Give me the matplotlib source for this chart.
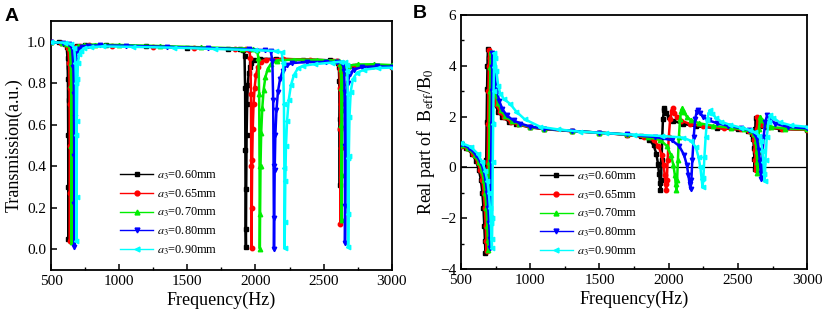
import matplotlib
matplotlib.use("Agg")
import matplotlib.pyplot as plt
from matplotlib.lines import Line2D
from matplotlib.ticker import MultipleLocator

plt.rcParams['font.family'] = ['Liberation Serif', 'DejaVu Serif']
plt.rcParams['mathtext.fontset'] = 'stix'

# ==========================
# Data
# ==========================

labels = [r'$a_3$=0.60mm', r'$a_3$=0.65mm', r'$a_3$=0.70mm', r'$a_3$=0.80mm', r'$a_3$=0.90mm']
colors = ['#000000', '#ff0000', '#00ee00', '#0000ff', '#00ffff']
markers = ['s', 'o', '^', 'v', '<']

# Panel A: transmission
fA_060 = [500, 560, 600, 615, 621, 624, 626, 627, 628, 630, 633, 637, 643, 652, 665, 690, 750, 900, 1200, 1500,
          1800, 1890, 1912, 1920, 1924, 1926, 1928, 1930, 1932, 1935, 1939, 1944, 1950, 1958, 1970, 1990, 2030, 2150, 2350, 2550,
          2595, 2607, 2612, 2615, 2617, 2619, 2621, 2624, 2628, 2635, 2648, 2670, 2720, 2850, 3000]
tA_060 = [0.998, 0.997, 0.992, 0.975, 0.92, 0.82, 0.55, 0.05, 0.3, 0.72, 0.88, 0.935, 0.958, 0.97, 0.977, 0.982, 0.985, 0.983, 0.978, 0.972,
          0.966, 0.964, 0.96, 0.93, 0.78, 0.48, 0.1, 0.01, 0.29, 0.55, 0.7, 0.79, 0.85, 0.88, 0.9, 0.912, 0.918, 0.918, 0.915, 0.911,
          0.909, 0.9, 0.88, 0.81, 0.58, 0.31, 0.63, 0.76, 0.83, 0.86, 0.875, 0.883, 0.886, 0.885, 0.881]

fA_065 = [500, 570, 610, 627, 633, 636, 638, 639, 640, 642, 645, 649, 655, 665, 680, 710, 780, 950, 1250, 1550,
          1850, 1930, 1955, 1963, 1967, 1969, 1971, 1973, 1976, 1980, 1986, 1994, 2004, 2018, 2040, 2080, 2200, 2400, 2570, 2600,
          2612, 2617, 2620, 2622, 2623, 2625, 2628, 2632, 2640, 2655, 2680, 2740, 2860, 3000]
tA_065 = [0.998, 0.996, 0.99, 0.97, 0.9, 0.78, 0.5, 0.04, 0.27, 0.7, 0.87, 0.93, 0.955, 0.968, 0.976, 0.981, 0.984, 0.982, 0.977, 0.971,
          0.966, 0.964, 0.96, 0.92, 0.75, 0.4, 0.005, 0.2, 0.43, 0.58, 0.7, 0.78, 0.84, 0.88, 0.905, 0.915, 0.918, 0.914, 0.91, 0.906,
          0.895, 0.87, 0.78, 0.58, 0.12, 0.49, 0.7, 0.8, 0.85, 0.87, 0.88, 0.884, 0.884, 0.88]

fA_070 = [500, 580, 620, 638, 645, 648, 650, 651, 652, 654, 657, 661, 668, 680, 700, 740, 820, 1000, 1300, 1600,
          1900, 1980, 2012, 2022, 2027, 2030, 2032, 2034, 2037, 2042, 2050, 2060, 2073, 2090, 2115, 2160, 2280, 2450, 2580, 2610,
          2621, 2626, 2629, 2631, 2632, 2634, 2637, 2642, 2650, 2665, 2690, 2750, 2870, 3000]
tA_070 = [0.998, 0.996, 0.99, 0.97, 0.9, 0.79, 0.5, 0.035, 0.26, 0.69, 0.86, 0.93, 0.956, 0.97, 0.979, 0.984, 0.987, 0.985, 0.98, 0.974,
          0.968, 0.965, 0.96, 0.92, 0.75, 0.4, 0.003, 0.17, 0.4, 0.56, 0.68, 0.77, 0.83, 0.87, 0.895, 0.91, 0.915, 0.913, 0.91, 0.906,
          0.895, 0.87, 0.78, 0.6, 0.14, 0.36, 0.67, 0.8, 0.85, 0.875, 0.886, 0.891, 0.892, 0.888]

fA_080 = [500, 590, 635, 655, 664, 668, 670, 671, 672, 674, 677, 682, 690, 703, 725, 770, 860, 1050, 1350, 1650,
          1950, 2070, 2112, 2124, 2130, 2133, 2136, 2138, 2141, 2146, 2154, 2165, 2180, 2200, 2228, 2270, 2380, 2520, 2600, 2632,
          2645, 2651, 2654, 2656, 2657, 2659, 2662, 2667, 2676, 2692, 2720, 2780, 2890, 3000]
tA_080 = [0.998, 0.996, 0.99, 0.97, 0.88, 0.75, 0.45, 0.013, 0.22, 0.64, 0.83, 0.915, 0.95, 0.966, 0.976, 0.981, 0.983, 0.981, 0.976, 0.97,
          0.964, 0.96, 0.955, 0.91, 0.72, 0.4, 0.0, 0.15, 0.38, 0.55, 0.67, 0.76, 0.82, 0.86, 0.888, 0.898, 0.903, 0.903, 0.902, 0.9,
          0.89, 0.86, 0.76, 0.5, 0.03, 0.21, 0.5, 0.7, 0.8, 0.845, 0.866, 0.878, 0.882, 0.88]

fA_090 = [500, 600, 650, 670, 679, 683, 685, 686, 687, 689, 693, 698, 707, 720, 745, 790, 880, 1100, 1400, 1700,
          2000, 2150, 2192, 2203, 2209, 2212, 2214, 2216, 2219, 2224, 2232, 2244, 2260, 2282, 2311, 2350, 2440, 2560, 2630, 2655,
          2668, 2674, 2677, 2679, 2680, 2682, 2685, 2690, 2699, 2715, 2745, 2800, 2900, 3000]
tA_090 = [0.998, 0.996, 0.99, 0.97, 0.9, 0.8, 0.55, 0.04, 0.25, 0.62, 0.82, 0.9, 0.94, 0.958, 0.969, 0.975, 0.978, 0.976, 0.972, 0.966,
          0.96, 0.956, 0.95, 0.9, 0.7, 0.39, 0.005, 0.13, 0.33, 0.5, 0.62, 0.72, 0.79, 0.84, 0.872, 0.885, 0.893, 0.9, 0.905, 0.902,
          0.89, 0.86, 0.75, 0.44, 0.01, 0.17, 0.45, 0.64, 0.76, 0.82, 0.852, 0.866, 0.874, 0.876]

# Panel B: real part of B_eff/B_0
fB_060 = [500, 540, 580, 610, 630, 645, 655, 663, 669, 674, 677, 680, 683, 686, 689, 692, 695, 700, 710, 725,
          745, 770, 800, 850, 900, 1000, 1100, 1300, 1500, 1700, 1800, 1860, 1890, 1910, 1922, 1930, 1936, 1940, 1944, 1948,
          1953, 1958, 1964, 1969, 1980, 2000, 2030, 2100, 2200, 2350, 2500, 2570, 2600, 2610, 2615, 2618, 2620, 2622, 2624, 2627,
          2635, 2660, 2700, 2800, 3000]
bB_060 = [0.85, 0.75, 0.55, 0.25, -0.1, -0.5, -1.0, -1.6, -2.3, -2.9, -3.35, -2.0, 0.3, 1.8, 3.1, 4.0, 4.68, 4.3, 3.6, 2.95,
          2.5, 2.2, 1.98, 1.8, 1.7, 1.58, 1.51, 1.43, 1.37, 1.29, 1.22, 1.1, 0.88, 0.55, 0.15, -0.25, -0.6, -0.89, -0.5, 0.3,
          1.2, 1.9, 2.25, 2.33, 2.15, 1.97, 1.84, 1.72, 1.62, 1.55, 1.5, 1.44, 1.32, 1.12, 0.75, 0.35, -0.05, 0.6, 1.5, 1.95,
          1.8, 1.65, 1.58, 1.52, 1.48]

fB_065 = [500, 545, 590, 620, 640, 655, 665, 673, 679, 684, 687, 690, 693, 696, 699, 702, 705, 710, 720, 735,
          755, 780, 810, 860, 910, 1000, 1100, 1300, 1500, 1700, 1820, 1890, 1925, 1948, 1962, 1971, 1977, 1981, 1986, 1992,
          2000, 2010, 2020, 2029, 2040, 2060, 2090, 2150, 2250, 2400, 2520, 2580, 2605, 2615, 2621, 2625, 2628, 2631, 2634, 2640,
          2650, 2675, 2720, 2820, 3000]
bB_065 = [0.86, 0.76, 0.52, 0.22, -0.1, -0.5, -1.0, -1.6, -2.3, -2.9, -3.3, -2.0, 0.2, 1.7, 3.0, 4.0, 4.62, 4.3, 3.6, 2.95,
          2.5, 2.2, 1.98, 1.8, 1.7, 1.59, 1.52, 1.43, 1.37, 1.29, 1.2, 1.08, 0.85, 0.5, 0.1, -0.3, -0.65, -0.88, -0.5, 0.3,
          1.2, 1.9, 2.22, 2.33, 2.15, 1.97, 1.84, 1.72, 1.62, 1.54, 1.5, 1.44, 1.33, 1.1, 0.7, 0.3, -0.1, 0.6, 1.5, 1.97,
          1.82, 1.66, 1.58, 1.52, 1.48]

fB_070 = [500, 550, 600, 630, 650, 665, 675, 684, 690, 695, 698, 701, 704, 707, 710, 713, 716, 721, 731, 746,
          766, 790, 820, 870, 920, 1000, 1100, 1300, 1500, 1700, 1850, 1940, 1985, 2015, 2033, 2044, 2050, 2055, 2060, 2066,
          2073, 2081, 2090, 2098, 2110, 2130, 2160, 2220, 2320, 2450, 2540, 2595, 2617, 2628, 2634, 2637, 2640, 2644, 2650, 2660,
          2672, 2695, 2740, 2840, 3000]
bB_070 = [0.88, 0.76, 0.5, 0.2, -0.1, -0.5, -1.0, -1.6, -2.3, -2.85, -3.25, -2.0, 0.2, 1.7, 3.0, 3.95, 4.55, 4.25, 3.6, 3.0,
          2.55, 2.25, 2.02, 1.83, 1.72, 1.6, 1.53, 1.44, 1.37, 1.3, 1.2, 1.08, 0.85, 0.5, 0.1, -0.3, -0.65, -0.88, -0.5, 0.3,
          1.2, 1.9, 2.22, 2.33, 2.18, 2.0, 1.86, 1.74, 1.64, 1.56, 1.5, 1.42, 1.3, 1.05, 0.65, 0.2, -0.2, 0.6, 1.5, 2.0,
          1.85, 1.7, 1.6, 1.53, 1.5]

fB_080 = [500, 560, 610, 645, 665, 680, 690, 698, 704, 709, 712, 715, 718, 721, 724, 726, 728, 733, 743, 758,
          778, 800, 830, 880, 930, 1000, 1100, 1300, 1500, 1700, 1900, 2020, 2075, 2110, 2130, 2142, 2150, 2157, 2163, 2170,
          2180, 2190, 2202, 2212, 2225, 2250, 2290, 2350, 2430, 2520, 2580, 2615, 2635, 2650, 2658, 2663, 2668, 2675, 2684, 2697,
          2709, 2730, 2770, 2860, 3000]
bB_080 = [0.92, 0.78, 0.5, 0.18, -0.15, -0.55, -1.0, -1.6, -2.2, -2.8, -3.15, -2.0, 0.2, 1.7, 3.0, 3.95, 4.5, 4.25, 3.65, 3.05,
          2.6, 2.3, 2.05, 1.85, 1.73, 1.61, 1.53, 1.44, 1.37, 1.3, 1.2, 1.08, 0.85, 0.5, 0.1, -0.3, -0.65, -0.85, -0.5, 0.3,
          1.2, 1.9, 2.2, 2.28, 2.15, 1.98, 1.85, 1.74, 1.64, 1.55, 1.47, 1.35, 1.15, 0.7, 0.2, -0.2, -0.45, 0.3, 1.2, 1.8,
          2.05, 1.9, 1.72, 1.6, 1.54]

fB_090 = [500, 570, 620, 655, 677, 692, 702, 710, 716, 721, 724, 727, 730, 733, 736, 739, 741, 746, 756, 770,
          785, 810, 856, 900, 960, 1073, 1200, 1361, 1550, 1750, 1950, 2100, 2160, 2195, 2215, 2228, 2237, 2244, 2250, 2257,
          2266, 2276, 2288, 2300, 2315, 2340, 2380, 2440, 2520, 2589, 2625, 2650, 2665, 2676, 2683, 2688, 2692, 2698, 2707, 2720,
          2733, 2755, 2800, 2880, 3000]
bB_090 = [0.97, 0.82, 0.55, 0.2, -0.15, -0.55, -1.0, -1.6, -2.2, -2.8, -3.15, -2.0, 0.2, 1.7, 3.0, 3.95, 4.5, 4.3, 3.8, 3.2,
          2.9, 2.7, 2.5, 2.2, 1.9, 1.6, 1.5, 1.41, 1.35, 1.29, 1.24, 1.18, 1.05, 0.8, 0.4, 0.0, -0.45, -0.78, -0.4, 0.4,
          1.2, 1.85, 2.15, 2.26, 2.12, 1.95, 1.8, 1.68, 1.57, 1.47, 1.38, 1.25, 1.05, 0.65, 0.2, -0.25, -0.55, 0.3, 1.2, 1.8,
          2.08, 1.95, 1.78, 1.66, 1.6]

seriesA = [(fA_060, tA_060), (fA_065, tA_065), (fA_070, tA_070), (fA_080, tA_080), (fA_090, tA_090)]
seriesB = [(fB_060, bB_060), (fB_065, bB_065), (fB_070, bB_070), (fB_080, bB_080), (fB_090, bB_090)]

# ==========================
# Figure
# ==========================

fig = plt.figure(figsize=(8.23, 3.2), dpi=100)
axA = fig.add_axes([0.062, 0.156, 0.414, 0.778])
axB = fig.add_axes([0.560, 0.159, 0.421, 0.794])


def desenhar(ax, series):
    for (f, v), c, m in zip(series, colors, markers):
        ax.plot(f, v, color=c, lw=1.8, marker=m, ms=3.2, mec=c, mfc=c, zorder=3)


def estilo(ax):
    for s in ax.spines.values():
        s.set_linewidth(1.3)
    ax.tick_params(which='both', direction='in', top=False, right=False, labelsize=11)
    ax.tick_params(which='major', length=4, width=1.1)
    ax.tick_params(which='minor', length=2.5, width=1.0)
    ax.set_xlim(500, 3000)
    ax.xaxis.set_major_locator(MultipleLocator(500))
    ax.xaxis.set_minor_locator(MultipleLocator(250))
    ax.set_xlabel('Frequency(Hz)', fontsize=13, labelpad=3)


def legenda(ax, x, y):
    handles = [Line2D([], [], color=c, lw=1.0, alpha=0.45, marker=m, ms=3.5) for c, m in zip(colors, markers)]
    for h, c in zip(handles, colors):
        h.set_markerfacecolor(c)
        h.set_markeredgecolor(c)
    leg = ax.legend(handles, labels, loc='upper left', bbox_to_anchor=(x, y), bbox_transform=fig.transFigure,
                    frameon=False, fontsize=8.8, handlelength=2.7, handletextpad=0.3, labelspacing=0.42,
                    borderpad=0, borderaxespad=0)
    for h in leg.legend_handles:
        h.set_alpha(1)
    return leg


# Panel A
desenhar(axA, seriesA)
estilo(axA)
axA.set_ylim(-0.1, 1.1)
axA.yaxis.set_major_locator(MultipleLocator(0.2))
axA.yaxis.set_major_formatter(plt.FormatStrFormatter('%.1f'))
axA.set_ylabel('Transmission(a.u.)', fontsize=13, labelpad=3)
legenda(axA, 0.146, 0.473)

# Panel B
desenhar(axB, seriesB)
estilo(axB)
axB.axhline(0, color='black', lw=0.9, zorder=2)
axB.set_ylim(-4, 6)
axB.yaxis.set_major_locator(MultipleLocator(2))
axB.yaxis.set_minor_locator(MultipleLocator(1))
axB.set_ylabel(r'Real part of  B$_{\mathrm{eff}}$/B$_0$', fontsize=13, labelpad=2)
legenda(axB, 0.656, 0.47)

fig.text(0.006, 0.975, 'A', fontsize=14, weight='bold', family='Liberation Sans', va='top')
fig.text(0.502, 0.985, 'B', fontsize=14, weight='bold', family='Liberation Sans', va='top')

fig.savefig('out.png', dpi=100)
